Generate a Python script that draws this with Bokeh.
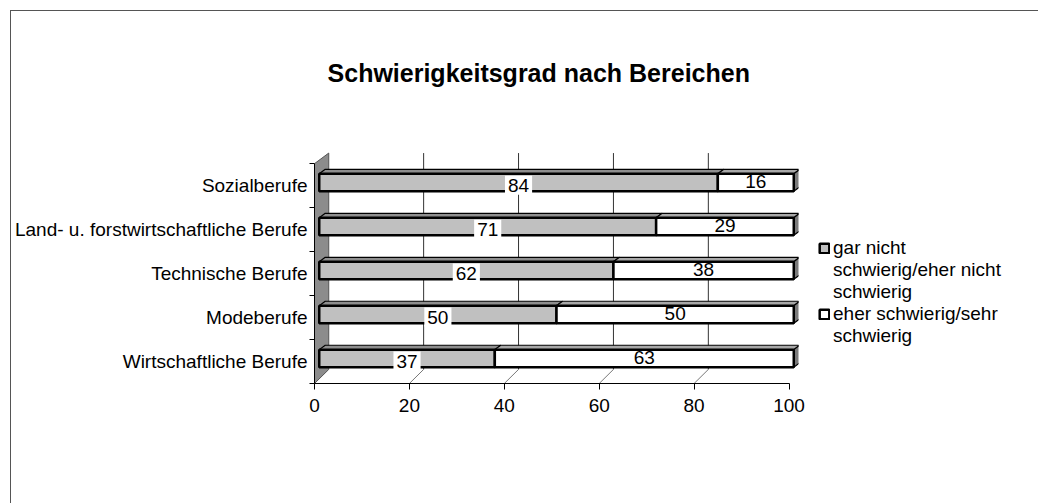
from bokeh.plotting import figure
from bokeh.models import (Range1d, FixedTicker, Legend, LegendItem, ColumnDataSource)
from bokeh.core.properties import value
from bokeh.embed import file_html
from bokeh.resources import INLINE

# ---- data ----
categories = ["Wirtschaftliche Berufe", "Modeberufe", "Technische Berufe",
              "Land- u. forstwirtschaftliche Berufe", "Sozialberufe"]
gar_nicht = [37, 50, 62, 71, 84]          # gar nicht schwierig / eher nicht schwierig
schwierig = [63, 50, 38, 29, 16]          # eher schwierig / sehr schwierig
x_ticks = [0, 20, 40, 60, 80, 100]
title_text = "Schwierigkeitsgrad nach Bereichen"
legend_lines_1 = ["gar nicht", "schwierig/eher nicht", "schwierig"]
legend_lines_2 = ["eher schwierig/sehr", "schwierig"]

FONT = "Liberation Sans"

# ---- style / geometry constants ----
BX = 1.0          # bar plane offset from front axis (x units)
BH = 0.40         # bar height
BYOFF = 0.07      # bar vertical offset
DX, DY = 1.26, 0.10      # bar depth
WX, WYT, WYB = 3.0, 0.24, 0.32   # wall/back plane depth
Y0, Y1 = -0.5, 7.3               # plot area extends upward to hold the title
TITLE_X, TITLE_Y = 2.75, 6.55

n = len(categories)
ys = list(range(n))

p = figure(width=1027, height=492, output_backend="svg", toolbar_location=None,
           x_range=Range1d(0, 102), y_range=Range1d(Y0, Y1),
           min_border_left=303, min_border_right=240, min_border_top=29, min_border_bottom=120,
           frame_width=484, frame_height=343)
p.margin = (10, 0, 0, 10)
p.styles = {"border-left": "1px solid #555555", "border-top": "1px solid #555555"}
p.outline_line_color = None
p.xgrid.visible = False
p.ygrid.visible = False
p.background_fill_color = "white"
p.border_fill_color = "white"

# title
p.text(x=[TITLE_X], y=[TITLE_Y], text=[title_text], text_font=value(FONT),
       text_font_size="25px", text_font_style="bold", text_color="black",
       text_align="left", text_baseline="middle")

# wall
p.patch([0, 0, WX, WX], [-0.5, 4.5, 4.5 + WYT, -0.5 + WYB],
        fill_color="#8c8c8c", line_color="#555555", line_width=1)

# back gridlines
gx = [v + WX for v in x_ticks[1:-1]]
p.segment(x0=gx, y0=[-0.5 + WYB] * len(gx), x1=gx, y1=[4.5 + WYT] * len(gx),
          line_color="#333333", line_width=1)
# floor diagonals
fx0 = x_ticks[1:-1]
p.segment(x0=fx0, y0=[-0.5] * len(fx0), x1=gx, y1=[-0.5 + WYB] * len(gx),
          line_color="#777777", line_width=1)

# bars (3D faces)
yc = [y + BYOFF for y in ys]
g_left = [BX] * n
g_right = [BX + v for v in gar_nicht]
w_left = g_right
w_right = [BX + a + b for a, b in zip(gar_nicht, schwierig)]

def top_faces(lefts, rights):
    xs, yy = [], []
    for l, r, c in zip(lefts, rights, yc):
        t = c + BH / 2
        xs.append([l, l + DX, r + DX, r])
        yy.append([t, t + DY, t + DY, t])
    return xs, yy

txs, tys = top_faces(g_left, g_right)
p.patches(txs, tys, fill_color="#8e8e8e", line_color="black", line_width=1.2)
txs, tys = top_faces(w_left, w_right)
p.patches(txs, tys, fill_color="#a8a8a8", line_color="black", line_width=1.2)
sxs, sys = [], []
for r, c in zip(w_right, yc):
    b, t = c - BH / 2, c + BH / 2
    sxs.append([r, r, r + DX, r + DX])
    sys.append([b, t, t + DY, b + DY])
p.patches(sxs, sys, fill_color="#7a7a7a", line_color="black", line_width=1.2)

r_gray = p.hbar(y=yc, left=g_left, right=g_right, height=BH,
                fill_color="#c0c0c0", line_color="black", line_width=2.5)
r_white = p.hbar(y=yc, left=w_left, right=w_right, height=BH,
                 fill_color="white", line_color="black", line_width=2.5)
# invisible renderer used for legend continuation lines
r_blank = p.hbar(y=[], left=[], right=[], height=BH, fill_alpha=0, line_alpha=0)

# value labels
gsrc = ColumnDataSource(dict(x=[BX + v / 2 for v in gar_nicht], y=[c - 0.06 for c in yc],
                             t=[str(v) for v in gar_nicht]))
p.text(x="x", y="y", text="t", source=gsrc, text_font=value(FONT), text_font_size="19px",
       text_align="center", text_baseline="middle", text_color="black",
       background_fill_color="white", padding=3)
wsrc = ColumnDataSource(dict(x=[BX + a + b / 2 for a, b in zip(gar_nicht, schwierig)],
                             y=[c + 0.02 for c in yc], t=[str(v) for v in schwierig]))
p.text(x="x", y="y", text="t", source=wsrc, text_font=value(FONT), text_font_size="19px",
       text_align="center", text_baseline="middle", text_color="black")

# axes
xa = p.xaxis[0]
xa.ticker = FixedTicker(ticks=x_ticks)
xa.bounds = (x_ticks[0], x_ticks[-1])
xa.major_label_text_font = FONT
xa.major_label_text_font_size = "19px"
xa.major_label_text_color = "black"
xa.major_tick_out = 6
xa.major_tick_in = 0
xa.minor_tick_line_color = None
xa.axis_line_color = "black"
xa.major_tick_line_color = "black"
xa.major_label_standoff = 9

ya = p.yaxis[0]
ya.ticker = FixedTicker(ticks=ys, minor_ticks=[y - 0.5 for y in ys] + [n - 0.5])
ya.bounds = (-0.5, n - 0.5)
ya.major_label_overrides = {y: c for y, c in zip(ys, categories)}
ya.major_label_text_font = FONT
ya.major_label_text_font_size = "19px"
ya.major_label_text_color = "black"
ya.major_tick_line_color = None
ya.major_tick_out = 4
ya.major_tick_in = 0
ya.minor_tick_out = 5
ya.minor_tick_in = 0
ya.minor_tick_line_color = "black"
ya.axis_line_color = "black"
ya.major_label_standoff = 2

items = [LegendItem(label=legend_lines_1[0], renderers=[r_gray])]
items += [LegendItem(label=t, renderers=[r_blank]) for t in legend_lines_1[1:]]
items += [LegendItem(label=legend_lines_2[0], renderers=[r_white])]
items += [LegendItem(label=t, renderers=[r_blank]) for t in legend_lines_2[1:]]
legend = Legend(items=items, location=(20, 36))
legend.label_text_font = FONT
legend.label_text_font_size = "19px"
legend.label_text_color = "black"
legend.label_height = 12
legend.glyph_width = 12
legend.glyph_height = 12
legend.label_standoff = 3
legend.spacing = -1
legend.padding = 0
legend.margin = 0
legend.border_line_color = None
legend.background_fill_alpha = 0
p.add_layout(legend, "right")

open("out.html", "w").write(file_html(p, INLINE))
